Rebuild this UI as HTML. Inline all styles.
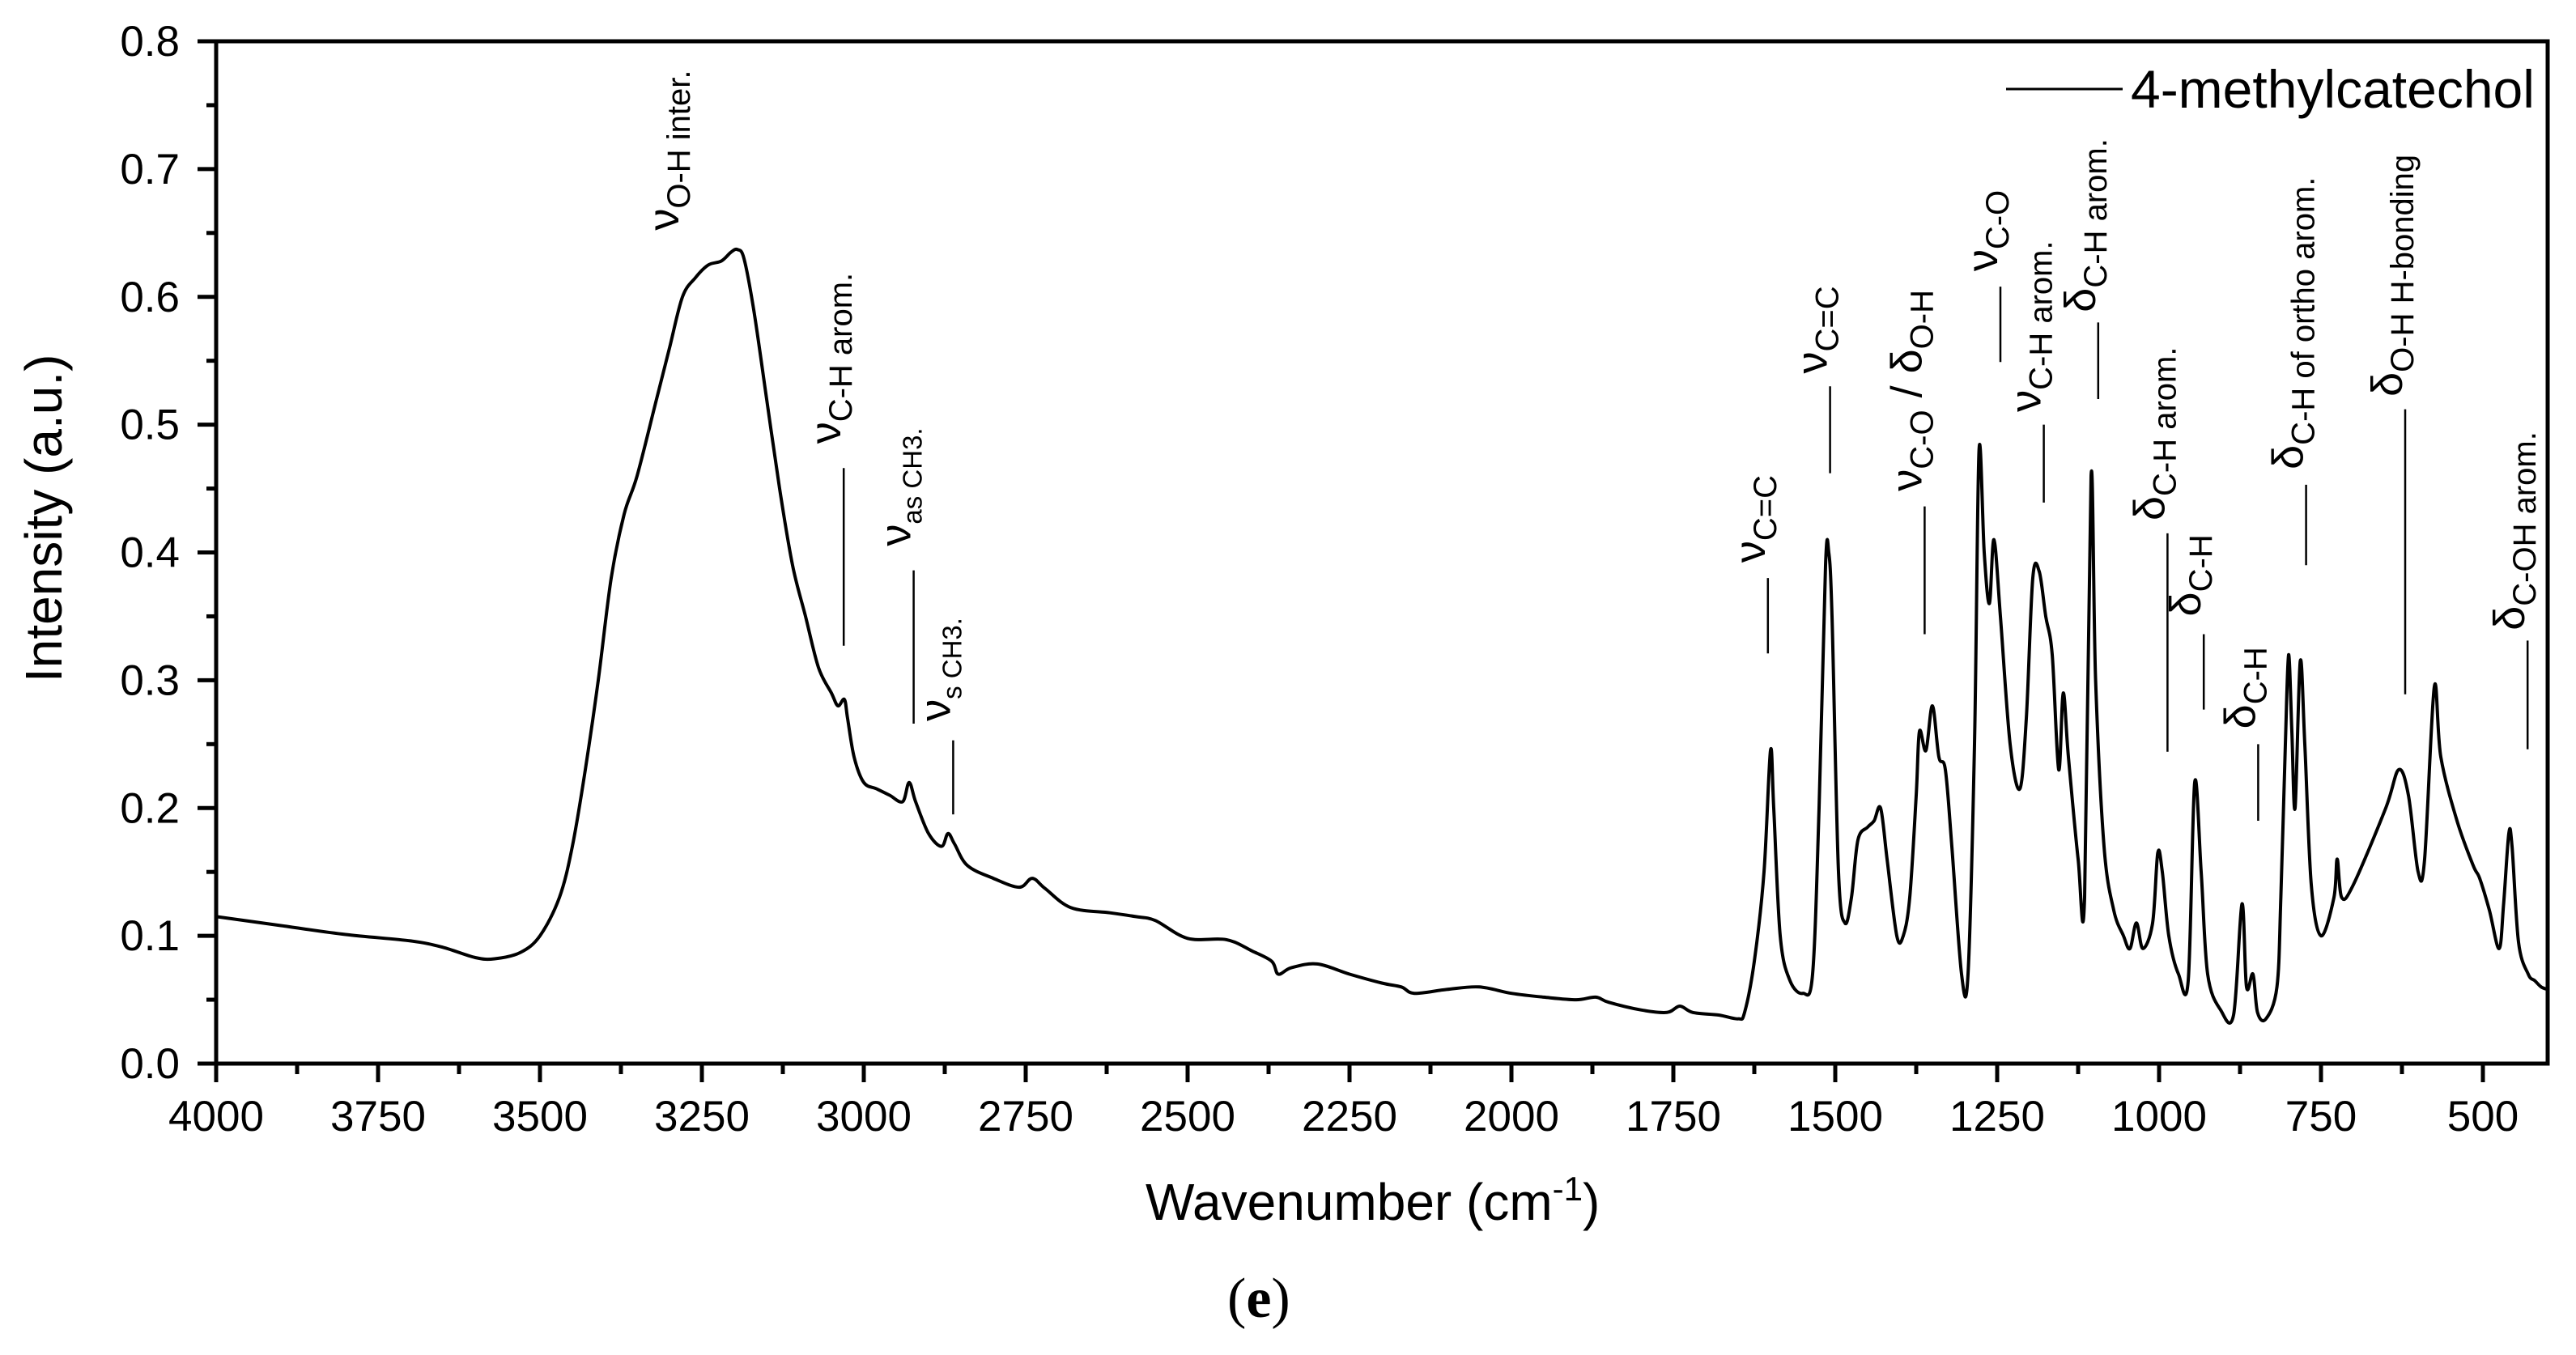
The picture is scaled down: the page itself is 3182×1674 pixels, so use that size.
<!DOCTYPE html>
<html><head><meta charset="utf-8"><style>
html,body{margin:0;padding:0;background:#fff;}
svg{display:block;font-family:"Liberation Sans",sans-serif;}
</style></head><body>
<svg id="chart" width="3182" height="1674" viewBox="0 0 3182 1674" xmlns="http://www.w3.org/2000/svg">
<g id="marks"></g>
<g id="axes"></g>
<g id="annots"></g>
<text x="1415" y="1507" font-size="64">Wavenumber (cm<tspan dy="-24" font-size="42">-1</tspan><tspan dy="24">)</tspan></text>
<text transform="translate(76,843) rotate(-90)" font-size="64">Intensity (a.u.)</text>
<text x="1516" y="1627" font-size="70" font-family="Liberation Serif, serif">(<tspan font-weight="bold">e</tspan>)</text>
<g>
<line x1="2478" y1="110" x2="2622" y2="110" stroke="#000" stroke-width="3"/>
<text x="2632" y="133" font-size="66">4-methylcatechol</text>
</g>
</svg>
<script>
const wavenumbers=[4000,3900,3800,3700,3650,3600,3570,3530,3500,3470,3450,3430,3410,3390,3370,3350,3320,3300,3280,3260,3240,3220,3205,3195,3185,3170,3150,3130,3110,3090,3070,3050,3040,3030,3025,3015,3000,2980,2960,2940,2930,2920,2900,2880,2870,2860,2840,2800,2760,2740,2720,2680,2620,2580,2550,2500,2440,2400,2370,2360,2340,2300,2250,2200,2170,2150,2100,2050,2000,1950,1900,1870,1850,1800,1760,1740,1720,1680,1650,1640,1625,1610,1600,1595,1585,1570,1550,1535,1525,1515,1510,1505,1495,1485,1475,1465,1450,1440,1430,1420,1405,1395,1385,1375,1370,1360,1350,1340,1330,1320,1305,1295,1285,1278,1270,1262,1255,1245,1230,1215,1205,1195,1185,1175,1165,1155,1148,1140,1125,1115,1105,1098,1085,1070,1055,1045,1035,1025,1010,1002,995,985,970,955,945,935,925,905,885,872,865,855,848,835,818,812,805,800,795,790,782,775,765,750,730,725,718,700,650,630,615,600,590,575,565,540,515,505,490,475,468,460,455,445,430,420,410,400];
const intensity=[0.115,0.108,0.101,0.096,0.091,0.083,0.082,0.087,0.100,0.13,0.17,0.23,0.30,0.38,0.43,0.46,0.52,0.56,0.60,0.615,0.625,0.628,0.635,0.637,0.63,0.59,0.52,0.45,0.39,0.35,0.31,0.29,0.28,0.285,0.27,0.24,0.22,0.215,0.21,0.205,0.22,0.205,0.18,0.17,0.18,0.172,0.155,0.145,0.138,0.145,0.137,0.122,0.118,0.115,0.112,0.098,0.097,0.088,0.080,0.070,0.075,0.078,0.070,0.063,0.060,0.055,0.058,0.060,0.055,0.052,0.050,0.052,0.048,0.042,0.040,0.045,0.040,0.038,0.035,0.040,0.080,0.15,0.245,0.20,0.10,0.065,0.055,0.07,0.20,0.39,0.40,0.35,0.15,0.11,0.13,0.175,0.185,0.19,0.20,0.16,0.10,0.10,0.13,0.21,0.26,0.245,0.28,0.24,0.23,0.17,0.07,0.07,0.25,0.48,0.40,0.36,0.41,0.35,0.25,0.215,0.27,0.38,0.385,0.35,0.32,0.23,0.29,0.24,0.16,0.13,0.46,0.30,0.17,0.12,0.10,0.09,0.11,0.09,0.11,0.165,0.15,0.10,0.07,0.065,0.22,0.15,0.07,0.042,0.038,0.125,0.06,0.07,0.04,0.035,0.06,0.13,0.25,0.32,0.26,0.20,0.315,0.25,0.14,0.10,0.13,0.16,0.13,0.14,0.20,0.23,0.21,0.15,0.16,0.295,0.24,0.19,0.155,0.145,0.12,0.09,0.125,0.18,0.17,0.095,0.07,0.065,0.060,0.058];
const xTicks=[4000,3750,3500,3250,3000,2750,2500,2250,2000,1750,1500,1250,1000,750,500];
const xTickLabels=["4000","3750","3500","3250","3000","2750","2500","2250","2000","1750","1500","1250","1000","750","500"];
const yTicks=[0,0.1,0.2,0.3,0.4,0.5,0.6,0.7,0.8];
const yTickLabels=["0.0","0.1","0.2","0.3","0.4","0.5","0.6","0.7","0.8"];
const annSym=["ν","ν","ν","ν","ν","ν","ν","ν","ν","δ","δ","δ","δ","δ","δ","δ"];
const annSub=["O-H inter.","C-H arom.","as CH3.","s CH3.","C=C","C=C","C-O","C-O","C-H arom.","C-H arom.","C-H arom.","C-H","C-H","C-H of ortho arom.","O-H H-bonding","C-OH arom."];
const annExtra=["","","","","",""," / δ|O-H","","","","","","","","",""];
const annWave=[3281,3031,2923,2862,1604,1508,1362,1245,1178,1094,987,931,847,773,620,431];
const annLineTop=[null,0.466,0.386,0.253,0.380,0.53,0.436,0.608,0.50,0.58,0.415,0.336,0.25,0.453,0.512,0.331];
const annLineBot=[null,0.327,0.266,0.195,0.321,0.462,0.336,0.549,0.439,0.52,0.244,0.277,0.19,0.39,0.289,0.246];
const annTextBase=[0.652,0.485,0.405,0.268,0.392,0.54,0.448,0.62,0.51,0.588,0.425,0.35,0.262,0.465,0.522,0.339];

const X0=267,X1=3147,Y0=1314,Y1=51,WMAX=4000,WMIN=400,VMAX=0.8;
const xs=w=>X0+(WMAX-w)*(X1-X0)/(WMAX-WMIN);
const ys=v=>Y0-v*(Y0-Y1)/VMAX;
const NS="http://www.w3.org/2000/svg";
function mk(tag,attrs,parent){const e=document.createElementNS(NS,tag);for(const k in attrs)e.setAttribute(k,attrs[k]);parent.appendChild(e);return e;}
const marks=document.getElementById('marks'),axes=document.getElementById('axes'),annots=document.getElementById('annots');

const P=wavenumbers.map((w,i)=>[xs(w),ys(intensity[i])]);
let d='M'+P[0][0].toFixed(1)+' '+P[0][1].toFixed(1);
for(let i=0;i<P.length-1;i++){
  const p0=P[Math.max(0,i-1)],p1=P[i],p2=P[i+1],p3=P[Math.min(P.length-1,i+2)];
  const c1=[p1[0]+(p2[0]-p0[0])/6,p1[1]+(p2[1]-p0[1])/6];
  const c2=[p2[0]-(p3[0]-p1[0])/6,p2[1]-(p3[1]-p1[1])/6];
  d+=' C'+c1[0].toFixed(1)+' '+c1[1].toFixed(1)+' '+c2[0].toFixed(1)+' '+c2[1].toFixed(1)+' '+p2[0].toFixed(1)+' '+p2[1].toFixed(1);
}
const path=mk('path',{d:d,fill:'none',stroke:'#000','stroke-width':4,'stroke-linejoin':'round'},marks);



const frame=mk('rect',{x:X0,y:Y1,width:X1-X0,height:Y0-Y1,fill:'none',stroke:'#000','stroke-width':5},axes);



xTicks.forEach((t,i)=>{
  const x=xs(t);
  const l=mk('line',{x1:x,y1:Y0,x2:x,y2:Y0+23,stroke:'#000','stroke-width':5},axes);
  
  
  const tx=mk('text',{x:x,y:1397,'text-anchor':'middle','font-size':53},axes);
  tx.textContent=xTickLabels[i];
  
  
  if(i<xTicks.length-1){const xm=xs(t-125);
    const m=mk('line',{x1:xm,y1:Y0,x2:xm,y2:Y0+13,stroke:'#000','stroke-width':5},axes);
    
    }
});
yTicks.forEach((t,i)=>{
  const y=ys(t);
  const l=mk('line',{x1:X0-23,y1:y,x2:X0,y2:y,stroke:'#000','stroke-width':5},axes);
  
  
  const tx=mk('text',{x:222,y:y+18,'text-anchor':'end','font-size':53},axes);
  tx.textContent=yTickLabels[i];
  
  
  if(i<yTicks.length-1){const ym=ys(t+0.05);
    const m=mk('line',{x1:X0-12,y1:ym,x2:X0,y2:ym,stroke:'#000','stroke-width':5},axes);
    
    }
});

annSym.forEach((s,i)=>{
  const x=xs(annWave[i]);
  if(annLineTop[i]!==null){
    const l=mk('line',{x1:x,y1:ys(annLineTop[i]),x2:x,y2:ys(annLineBot[i]),stroke:'#000','stroke-width':2.5},annots);
    
    
  }
  const t=mk('text',{transform:'translate('+(x-4)+','+ys(annTextBase[i])+') rotate(-90)','font-size':54},annots);
  
  
  const s1=mk('tspan',{},t);s1.textContent=s;
  const small=annSub[i].startsWith('as')||annSub[i].startsWith('s ');
  const s2=mk('tspan',{dy:14,'font-size':small?33:40},t);s2.textContent=annSub[i];
  if(annExtra[i]){const parts=annExtra[i].split('|');
    const s3=mk('tspan',{dy:-14,'font-size':54},t);s3.textContent=parts[0];
    const s4=mk('tspan',{dy:14,'font-size':40},t);s4.textContent=parts[1];}
});
</script>
</body></html>
